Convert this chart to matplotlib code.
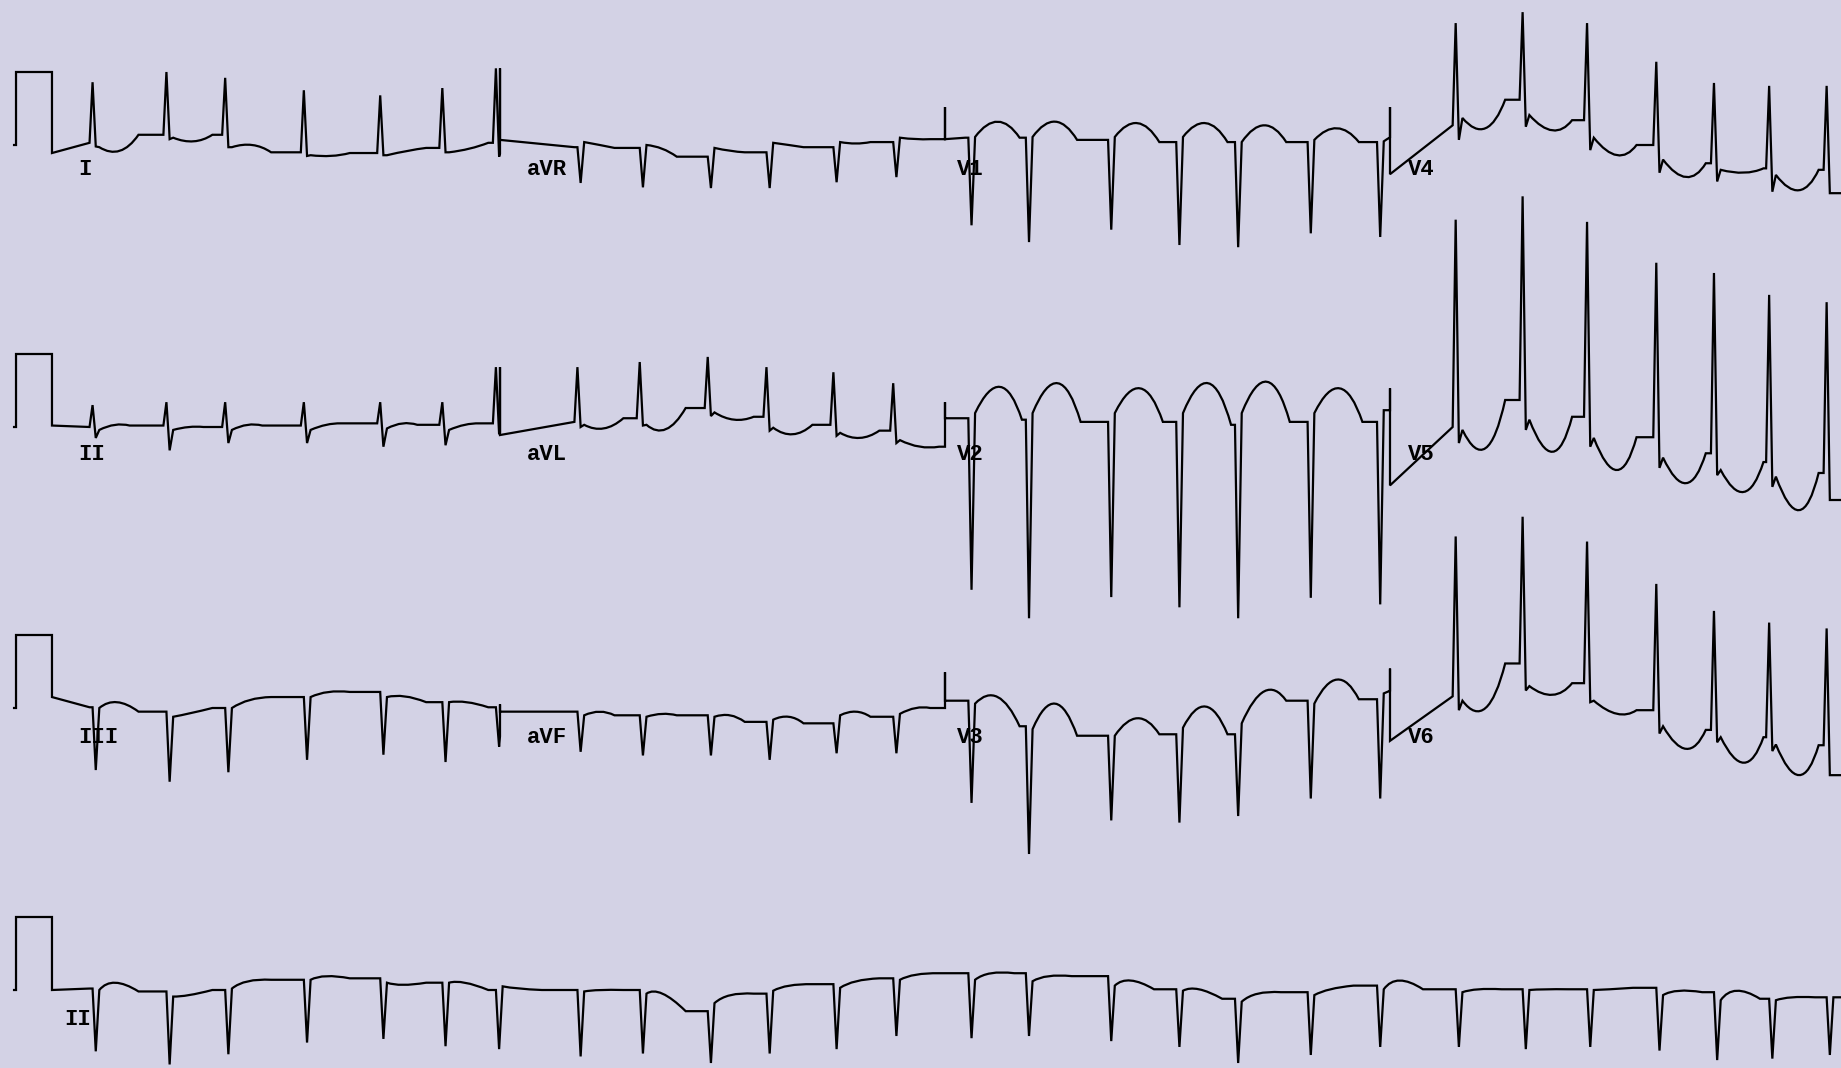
import numpy as np
import matplotlib.pyplot as plt
from matplotlib.path import Path
from matplotlib.transforms import Affine2D

# 12-lead ECG printout, 25 mm/s, 10 mm/mV
# beat times in seconds (all leads recorded at the same time)
BEAT_T = [0.219, 0.634, 0.964, 1.406, 1.835, 2.184, 2.485,
          2.943, 3.293, 3.675, 4.005, 4.381, 4.717,
          5.139, 5.462, 5.924, 6.307, 6.637, 7.045, 7.435,
          7.877, 8.253, 8.615, 9.004, 9.328, 9.638, 9.961]

# per beat: [baseline before QRS, R peak, S nadir, J point, T extreme] in mV
LEAD_I = [[0.03, 0.86, -0.02, -0.03, -0.08], [0.14, 1.00, 0.08, 0.10, 0.05],
          [0.14, 0.92, -0.03, -0.03, 0.00], [-0.10, 0.75, -0.15, -0.14, -0.15],
          [-0.11, 0.68, -0.14, -0.14, -0.08], [-0.04, 0.78, -0.10, -0.10, -0.05],
          [0.03, 1.05, -0.16, 0.00, 0.00]]
LEAD_AVR = [[-0.03, -0.03, -0.52, 0.04, 0.00], [-0.04, -0.04, -0.58, 0.00, -0.05],
            [-0.16, -0.16, -0.59, -0.04, -0.08], [-0.10, -0.10, -0.59, 0.03, 0.00],
            [-0.03, -0.03, -0.51, 0.04, 0.02], [0.04, 0.04, -0.44, 0.10, 0.08]]
LEAD_V1 = [[0.10, 0.10, -1.10, 0.11, 0.32], [0.10, 0.10, -1.33, 0.11, 0.32],
           [0.07, 0.07, -1.16, 0.11, 0.30], [0.04, 0.04, -1.37, 0.11, 0.30],
           [0.04, 0.04, -1.40, 0.04, 0.27], [0.04, 0.04, -1.21, 0.07, 0.23],
           [0.04, 0.04, -1.26, 0.05, 0.20]]
LEAD_V4 = [[0.27, 1.67, 0.07, 0.37, 0.23], [0.62, 1.82, 0.25, 0.41, 0.20],
           [0.34, 1.67, -0.07, 0.10, -0.14], [0.00, 1.14, -0.38, -0.20, -0.44],
           [-0.25, 0.85, -0.50, -0.34, -0.38], [-0.32, 0.81, -0.64, -0.41, -0.62],
           [-0.34, 0.81, -0.66, -0.66, -0.66]]
LEAD_II = [[0.00, 0.30, -0.15, -0.04, 0.03], [0.02, 0.34, -0.32, -0.04, 0.00],
           [0.00, 0.34, -0.22, -0.04, 0.03], [0.02, 0.34, -0.22, -0.04, 0.03],
           [0.05, 0.34, -0.27, -0.02, 0.05], [0.03, 0.34, -0.25, -0.04, 0.03],
           [0.05, 0.82, -0.10, 0.00, 0.00]]
LEAD_AVL = [[0.07, 0.82, 0.00, 0.03, -0.02], [0.12, 0.89, 0.02, 0.03, -0.03],
            [0.26, 0.96, 0.15, 0.20, 0.10], [0.14, 0.82, -0.05, -0.01, -0.10],
            [0.03, 0.75, -0.12, -0.08, -0.15], [-0.05, 0.60, -0.22, -0.18, -0.27]]
LEAD_V2 = [[0.12, 0.12, -2.23, 0.19, 0.55], [0.10, 0.10, -2.62, 0.19, 0.60],
           [0.07, 0.07, -2.33, 0.19, 0.53], [0.07, 0.07, -2.47, 0.19, 0.60],
           [0.03, 0.03, -2.62, 0.19, 0.62], [0.07, 0.07, -2.34, 0.19, 0.53],
           [0.07, 0.07, -2.43, 0.23, 0.23]]
LEAD_V5 = [[0.00, 2.84, -0.22, -0.04, -0.29], [0.37, 3.16, -0.04, 0.10, -0.34],
           [0.14, 2.81, -0.27, -0.15, -0.59], [-0.14, 2.25, -0.56, -0.42, -0.77],
           [-0.36, 2.11, -0.66, -0.59, -0.89], [-0.48, 1.81, -0.82, -0.68, -1.14],
           [-0.63, 1.71, -1.00, -1.00, -1.00]]
LEAD_III = [[0.01, 0.01, -0.85, 0.00, 0.08], [-0.05, -0.05, -1.01, -0.12, -0.07],
            [0.00, 0.00, -0.88, 0.00, 0.11], [0.15, 0.15, -0.71, 0.15, 0.22],
            [0.22, 0.22, -0.64, 0.15, 0.16], [0.08, 0.08, -0.74, 0.08, 0.08],
            [0.01, 0.01, -0.53, 0.04, 0.04]]
LEAD_AVF = [[-0.05, -0.05, -0.60, -0.10, -0.05], [-0.10, -0.10, -0.65, -0.12, -0.08],
            [-0.10, -0.10, -0.65, -0.12, -0.10], [-0.19, -0.19, -0.71, -0.16, -0.12],
            [-0.21, -0.21, -0.62, -0.10, -0.05], [-0.12, -0.12, -0.62, -0.08, 0.00]]
LEAD_V3 = [[0.10, 0.10, -1.30, 0.06, 0.15], [-0.25, -0.25, -2.00, -0.29, 0.06],
           [-0.38, -0.38, -1.54, -0.38, -0.14], [-0.36, -0.36, -1.57, -0.27, 0.02],
           [-0.36, -0.36, -1.48, -0.21, 0.23], [0.10, 0.10, -1.24, 0.06, 0.39],
           [0.12, 0.12, -1.24, 0.20, 0.30]]
LEAD_V6 = [[0.16, 2.35, -0.03, 0.10, 0.00], [0.61, 2.62, 0.24, 0.30, 0.18],
           [0.34, 2.28, 0.08, 0.10, -0.08], [-0.03, 1.70, -0.35, -0.25, -0.56],
           [-0.30, 1.33, -0.47, -0.40, -0.75], [-0.40, 1.17, -0.59, -0.50, -0.92],
           [-0.51, 1.09, -0.92, -0.92, -0.92]]
RHYTHM_II = [[0.02, 0.02, -0.84, 0.00, 0.10], [-0.02, -0.02, -1.02, -0.09, -0.07],
             [0.00, 0.00, -0.88, 0.02, 0.12], [0.14, 0.14, -0.72, 0.14, 0.19],
             [0.16, 0.16, -0.67, 0.10, 0.07], [0.10, 0.10, -0.77, 0.10, 0.10],
             [0.00, 0.00, -0.81, 0.05, 0.02], [0.00, 0.00, -0.91, -0.02, 0.00],
             [0.00, 0.00, -0.87, -0.05, -0.05], [-0.29, -0.29, -1.00, -0.18, -0.07],
             [-0.05, -0.05, -0.87, -0.01, 0.06], [0.08, 0.08, -0.81, 0.03, 0.12],
             [0.16, 0.16, -0.63, 0.14, 0.21], [0.23, 0.23, -0.66, 0.14, 0.23],
             [0.23, 0.23, -0.63, 0.12, 0.19], [0.19, 0.19, -0.70, 0.06, 0.13],
             [0.01, 0.01, -0.78, -0.01, 0.01], [-0.12, -0.12, -1.00, -0.16, -0.05],
             [-0.03, -0.03, -0.89, -0.07, 0.01], [0.06, 0.06, -0.78, 0.01, 0.13],
             [0.01, 0.01, -0.78, -0.03, 0.01], [0.01, 0.01, -0.81, 0.00, 0.01],
             [0.01, 0.01, -0.78, 0.00, 0.01], [0.03, 0.03, -0.83, -0.07, -0.01],
             [-0.03, -0.03, -0.96, -0.14, -0.01], [-0.12, -0.12, -0.94, -0.14, -0.10],
             [-0.10, -0.10, -0.89, -0.10, -0.10]]

LEADS = {"I": LEAD_I, "aVR": LEAD_AVR, "V1": LEAD_V1, "V4": LEAD_V4,
         "II": LEAD_II, "aVL": LEAD_AVL, "V2": LEAD_V2, "V5": LEAD_V5,
         "III": LEAD_III, "aVF": LEAD_AVF, "V3": LEAD_V3, "V6": LEAD_V6}
# level at the start of each lead's 2.5 s window (mV)
LEAD_START = {"I": -0.11, "aVR": 0.07, "V1": 0.08, "V4": -0.40,
              "II": 0.02, "aVL": -0.11, "V2": 0.12, "V5": -0.80,
              "III": 0.15, "aVF": -0.05, "V3": 0.10, "V6": -0.45}
# time of T extreme and of return to baseline after the QRS (s)
T_PEAK = {"I": 0.15, "aVR": 0.12, "V1": 0.16, "V4": 0.17, "II": 0.12, "aVL": 0.14,
          "V2": 0.18, "V5": 0.17, "III": 0.12, "aVF": 0.12, "V3": 0.16, "V6": 0.17}
T_END = {"I": 0.25, "aVR": 0.20, "V1": 0.28, "V4": 0.27, "II": 0.20, "aVL": 0.25,
         "V2": 0.30, "V5": 0.27, "III": 0.25, "aVF": 0.20, "V3": 0.28, "V6": 0.27}

LAYOUT = [["I", "aVR", "V1", "V4"], ["II", "aVL", "V2", "V5"], ["III", "aVF", "V3", "V6"]]
COL_BEATS = [(0, 7), (7, 13), (13, 20), (20, 27)]
COL_EDGES = [-0.017, 2.5, 5.0, 7.5, 10.034]
MARK_TOP = [[1.05, 0.52, 0.52], [0.82, 0.34, 0.53], [0.05, 0.49, 0.54]]

# page geometry (pixels of the 1841 x 1068 printout)
PX_PER_S, PX_PER_MV, X0_PX = 178.0, 73.0, 55.0
ROW_BASE_PX = [145, 427, 708, 990]
LABEL_DY = [-0.34, -0.37, -0.40, -0.41]
LABEL_X = [0.13, 2.65, 5.07, 7.60]
BG = '#d3d2e5'
TO_PX = Affine2D().scale(PX_PER_S, PX_PER_MV)


def trace(beats, times, start, t0, t1, tp, te):
    # QRS as straight strokes, ST-T as a quadratic curve through the T extreme
    verts, codes = [(t0, start)], [Path.MOVETO]
    n = len(beats)
    for k, (tc, (b, r, s, j, tv)) in enumerate(zip(times, beats)):
        verts += [(tc - 0.025, b), (tc - 0.008, r), (tc + 0.010, s), (tc + 0.030, j)]
        codes += [Path.LINETO] * 4
        if k + 1 < n:
            nb = beats[k + 1][0]
            ex = min(tc + te, times[k + 1] - 0.03)
        else:
            nb, ex = tv, tc + te
        ctrl = 2 * tv - (j + nb) / 2
        verts += [(tc + tp, ctrl), (ex, nb)]
        codes += [Path.CURVE3, Path.CURVE3]
    verts.append((max(t1, verts[-1][0]) + 0.5, verts[-1][1]))
    codes.append(Path.LINETO)
    poly = Path(verts, codes).to_polygons(transform=TO_PX, closed_only=False)
    pts = TO_PX.inverted().transform(np.vstack(poly))
    xs, ys = pts[:, 0], pts[:, 1]
    end = np.interp(t1, xs, ys)
    keep = xs < t1
    return list(xs[keep]) + [t1], list(ys[keep]) + [end]


def calibration(start):
    return [-0.23, -0.219, -0.219, -0.017, -0.017], [0, 0, 1, 1, start]


fig = plt.figure(figsize=(18.41, 10.68), dpi=100, facecolor=BG)
ax = fig.add_axes([0, 0, 1, 1])
ax.set_xlim(-X0_PX / PX_PER_S, (1841 - X0_PX) / PX_PER_S)
ax.set_ylim(-1068 / PX_PER_MV, 0)
ax.axis('off')

lab_kw = dict(family='Liberation Mono', fontweight='bold', fontsize=16,
              ha='left', va='center', color='black')
line_kw = dict(color='black', lw=1.6, solid_joinstyle='miter')

for row, names in enumerate(LAYOUT):
    off = -ROW_BASE_PX[row] / PX_PER_MV
    xs, ys = calibration(LEAD_START[names[0]])
    for col, name in enumerate(names):
        i0, i1 = COL_BEATS[col]
        tx, ty = trace(LEADS[name], BEAT_T[i0:i1], LEAD_START[name],
                       COL_EDGES[col], COL_EDGES[col + 1], T_PEAK[name], T_END[name])
        if col > 0:
            xs += [COL_EDGES[col]]
            ys += [MARK_TOP[row][col - 1]]
        xs += tx
        ys += ty
        ax.text(LABEL_X[col], off + LABEL_DY[row], name, **lab_kw)
    ax.plot(xs, np.array(ys) + off, **line_kw)

# rhythm strip, lead II over the full 10 s
off = -ROW_BASE_PX[3] / PX_PER_MV
xs, ys = calibration(0.0)
tx, ty = trace(RHYTHM_II, BEAT_T, 0.0, COL_EDGES[0], COL_EDGES[-1], 0.10, 0.25)
xs += tx
ys += ty
ax.plot(xs, np.array(ys) + off, **line_kw)
ax.text(0.05, off + LABEL_DY[3], "II", **lab_kw)

fig.savefig('out.png', dpi=100, facecolor=BG)
